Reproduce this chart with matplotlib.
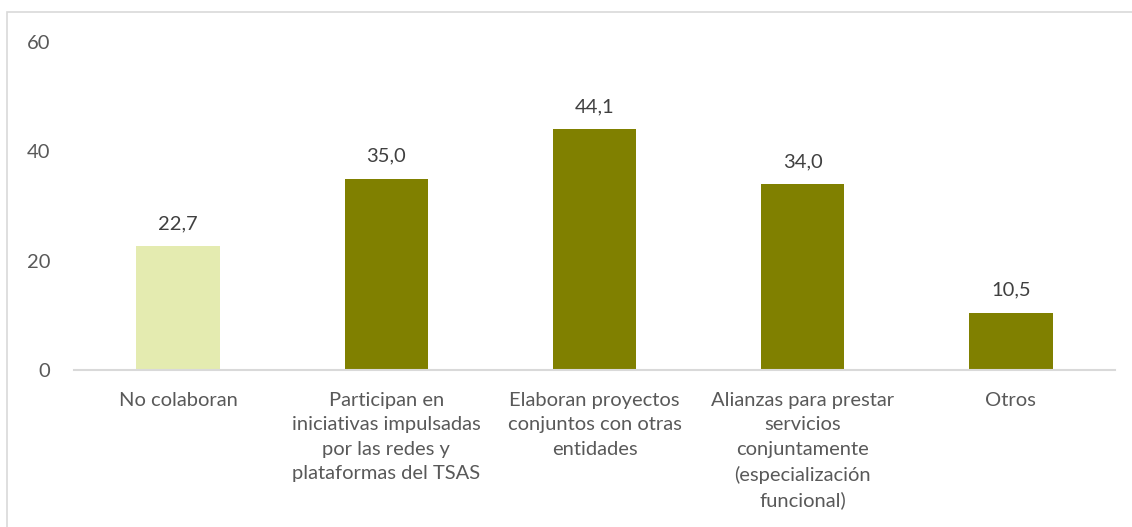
import matplotlib.pyplot as plt
from matplotlib.patches import Rectangle

categorias = ['No colaboran',
              'Participan en\niniciativas impulsadas\npor las redes y\nplataformas del TSAS',
              'Elaboran proyectos\nconjuntos con otras\nentidades',
              'Alianzas para prestar\nservicios\nconjuntamente\n(especialización\nfuncional)',
              'Otros']
valores = [22.7, 35.0, 44.1, 34.0, 10.5]
colores = ['#E4EBB0', '#808000', '#808000', '#808000', '#808000']

plt.rcParams['font.family'] = ['Lato', 'DejaVu Sans']
gris = '#595959'

fig = plt.figure(figsize=(11.32, 5.27), dpi=100)
ax = fig.add_axes([0.0654, 0.298, 0.9196, 0.622])

x = range(len(categorias))
barras = ax.bar(x, valores, width=0.40, color=colores)

for b, v in zip(barras, valores):
    ax.annotate(f'{v:.1f}'.replace('.', ','), (b.get_x() + b.get_width() / 2, v),
                xytext=(0, 10), textcoords='offset points', ha='center', va='bottom',
                fontsize=14.5, color='#404040')

ax.set_xlim(-0.5, len(categorias) - 0.5)
ax.set_ylim(0, 60)
ax.set_yticks([0, 20, 40, 60])
ax.set_xticks(list(x))
ax.set_xticklabels(categorias, fontsize=14.5, color=gris, linespacing=1.52, va='top')
ax.tick_params(axis='y', length=0, pad=17, labelsize=14.5, labelcolor=gris)
ax.tick_params(axis='x', length=0, pad=16)

for s in ['top', 'right', 'left']:
    ax.spines[s].set_visible(False)
ax.spines['bottom'].set_color('#D9D9D9')
ax.spines['bottom'].set_linewidth(1.5)

# marco del grafico
fig.patches.append(Rectangle((7 / 1132, -0.1), 1.2, 1 - 12 / 527 + 0.1,
                             transform=fig.transFigure, fill=False,
                             edgecolor='#D9D9D9', linewidth=1.2))

fig.savefig('out.png', dpi=100)
